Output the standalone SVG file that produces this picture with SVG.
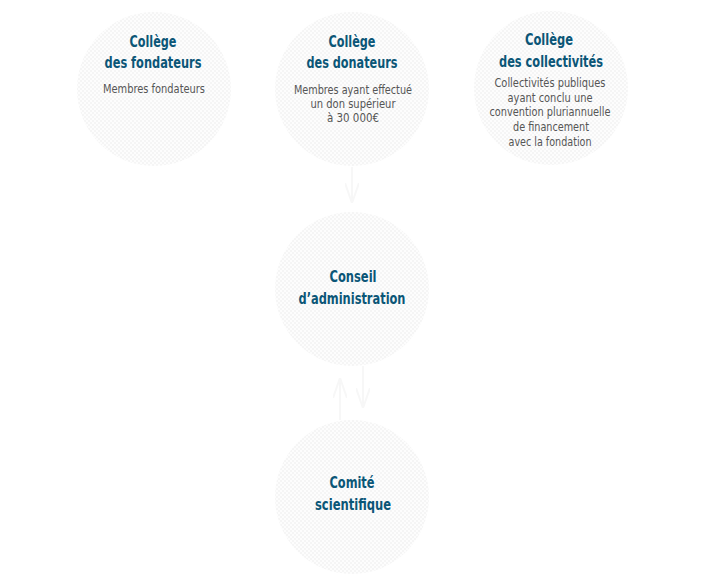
<svg xmlns="http://www.w3.org/2000/svg" width="705" height="585" viewBox="0 0 705 585">
  <defs>
    <pattern id="chk" width="4" height="4" patternUnits="userSpaceOnUse">
      <rect width="4" height="4" fill="#fdfdfd"/>
      <rect width="2" height="2" fill="#f5f5f5"/>
      <rect x="2" y="2" width="2" height="2" fill="#f5f5f5"/>
    </pattern>
    <marker id="ah" viewBox="0 0 20 14" refX="18" refY="7" markerWidth="20" markerHeight="14" markerUnits="userSpaceOnUse" orient="auto">
      <path d="M0,0 L20,7 L0,14" fill="none" stroke="#f7f7f7" stroke-width="2"/>
    </marker>
  </defs>
  <style>
    .node circle { fill: url(#chk); }
    .t { font-family: "Liberation Sans Narrow", "DejaVu Sans Condensed", "Roboto", sans-serif; font-weight: bold; font-size: 15px; fill: #0b5677; text-anchor: middle; }
    .b { font-family: "Liberation Sans Narrow", "DejaVu Sans Condensed", "Roboto", sans-serif; font-size: 12px; fill: #555555; text-anchor: middle; }
    .conn path { fill: none; stroke: #f7f7f7; stroke-width: 2; }
  </style>
  <rect width="705" height="585" fill="#ffffff"/>

  <g id="connectors" class="conn">
    <path d="M352,167 V201" marker-end="url(#ah)"/>
    <path d="M363,366 V406" marker-end="url(#ah)"/>
    <path d="M340,420 V380" marker-end="url(#ah)"/>
  </g>

  <g id="college-fondateurs" class="node">
    <circle cx="154" cy="89" r="77"/>
    <text class="t" x="153" y="47" textLength="47" lengthAdjust="spacingAndGlyphs">Collège</text>
    <text class="t" x="153" y="68" textLength="97" lengthAdjust="spacingAndGlyphs">des fondateurs</text>
    <text class="b" x="154" y="93" textLength="102" lengthAdjust="spacingAndGlyphs">Membres fondateurs</text>
  </g>

  <g id="college-donateurs" class="node">
    <circle cx="352" cy="89" r="77"/>
    <text class="t" x="352" y="47" textLength="47" lengthAdjust="spacingAndGlyphs">Collège</text>
    <text class="t" x="352" y="68" textLength="91" lengthAdjust="spacingAndGlyphs">des donateurs</text>
    <text class="b" x="353" y="94" textLength="118" lengthAdjust="spacingAndGlyphs">Membres ayant effectué</text>
    <text class="b" x="353" y="108" textLength="85" lengthAdjust="spacingAndGlyphs">un don supérieur</text>
    <text class="b" x="353" y="122" textLength="52" lengthAdjust="spacingAndGlyphs">à 30 000€</text>
  </g>

  <g id="college-collectivites" class="node">
    <circle cx="551" cy="88" r="77"/>
    <text class="t" x="549" y="45" textLength="48" lengthAdjust="spacingAndGlyphs">Collège</text>
    <text class="t" x="551" y="67" textLength="104" lengthAdjust="spacingAndGlyphs">des collectivités</text>
    <text class="b" x="550" y="87" textLength="111" lengthAdjust="spacingAndGlyphs">Collectivités publiques</text>
    <text class="b" x="550" y="102" textLength="85" lengthAdjust="spacingAndGlyphs">ayant conclu une</text>
    <text class="b" x="550" y="116" textLength="121" lengthAdjust="spacingAndGlyphs">convention pluriannuelle</text>
    <text class="b" x="551" y="131" textLength="76" lengthAdjust="spacingAndGlyphs">de financement</text>
    <text class="b" x="550" y="146" textLength="83" lengthAdjust="spacingAndGlyphs">avec la fondation</text>
  </g>

  <g id="conseil-administration" class="node">
    <circle cx="352" cy="289" r="77"/>
    <text class="t" x="353" y="282" textLength="47" lengthAdjust="spacingAndGlyphs">Conseil</text>
    <text class="t" x="352" y="304" textLength="107" lengthAdjust="spacingAndGlyphs">d’administration</text>
  </g>

  <g id="comite-scientifique" class="node">
    <circle cx="352" cy="497" r="77"/>
    <text class="t" x="352" y="488" textLength="45" lengthAdjust="spacingAndGlyphs">Comité</text>
    <text class="t" x="353" y="510" textLength="76" lengthAdjust="spacingAndGlyphs">scientifique</text>
  </g>
</svg>
